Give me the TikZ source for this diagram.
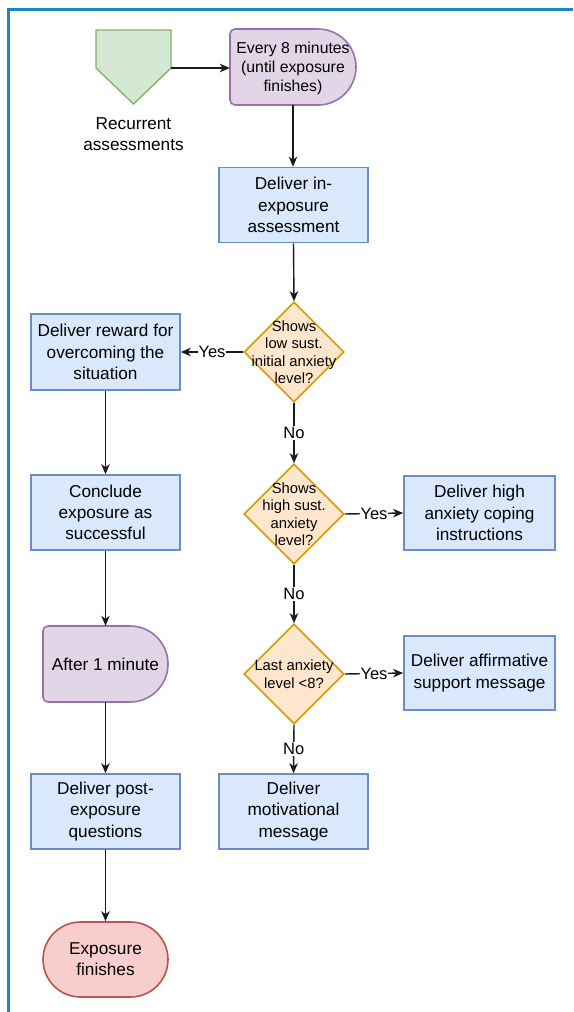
\documentclass[tikz,border=0pt]{standalone}
\usepackage{fontspec}
\setmainfont{Liberation Sans}
\usetikzlibrary{shapes.geometric,arrows.meta}

\definecolor{frameblue}{HTML}{1887C6}
\definecolor{procfill}{HTML}{DAE8FC}
\definecolor{procline}{HTML}{6C8EBF}
\definecolor{decfill}{HTML}{FFE6CC}
\definecolor{decline}{HTML}{D79B00}
\definecolor{delayfill}{HTML}{E1D5E7}
\definecolor{delayline}{HTML}{9673A6}
\definecolor{linkfill}{HTML}{D5E8D4}
\definecolor{linkline}{HTML}{82B366}
\definecolor{endfill}{HTML}{F8CECC}
\definecolor{endline}{HTML}{B85450}
\definecolor{wire}{HTML}{1A1A1A}

\newcommand\boxfont{\fontsize{17.2}{21.3}\selectfont}
\newcommand\delayfont{\fontsize{15.8}{19}\selectfont}
\newcommand\decfont{\fontsize{14.8}{17.5}\selectfont}
\newcommand\lblfont{\fontsize{16.5}{19}\selectfont}

\begin{document}
\begin{tikzpicture}[x=1pt,y=-1pt,
  procbox/.style={draw=procline, fill=procfill, line width=1.6pt, align=center,
    font=\boxfont, inner sep=0pt, minimum width=149pt, minimum height=75pt},
  decision/.style={diamond, aspect=1, draw=decline, fill=decfill, line width=1.6pt,
    inner sep=0pt, minimum width=100pt, minimum height=100pt},
  dectext/.style={align=center, font=\decfont, inner sep=0pt},
  delayshape/.style={draw=delayline, fill=delayfill, line width=1.6pt},
  ghost/.style={inner sep=0pt, draw=none},
  terminal/.style={draw=endline, fill=endfill, line width=1.6pt, align=center,
    font=\boxfont, inner sep=0pt, minimum width=125pt, minimum height=75pt,
    rounded corners=37.5pt},
  flow/.style={draw=wire, line width=1.4pt, -{Stealth[length=10pt,width=8.5pt,inset=3pt]}},
  lbl/.style={fill=white, font=\lblfont, inner sep=1pt, text=black}
]
\useasboundingbox (0,0) rectangle (573,1012);

% frame edges
\draw[frameblue, line width=2.5pt] (8.5,1012) -- (8.5,9.3) -- (573,9.3);

% off-page connector
\draw[draw=linkline, fill=linkfill, line width=1.4pt]
  (96,30) -- (171,30) -- (171,68) -- (133.5,104) -- (96,68) -- cycle;
\node[ghost, minimum width=75pt, minimum height=74pt] (pent) at (133.5,68) {};
\node[align=center, font=\boxfont] (reclabel) at (133.5,134) {Recurrent\\assessments};

% delay: every 8 minutes
\draw[delayshape] (318,29) [rounded corners=5pt] -- (230,29) -- (230,105)
  [sharp corners] -- (318,105) arc[start angle=-90, end angle=90, radius=38pt] -- cycle;
\node[ghost, minimum width=126pt, minimum height=76pt] (every) at (293,67) {};
\node[align=center, font=\delayfont, inner sep=0pt] (everytxt) at (293,68)
  {Every 8 minutes\\(until exposure\\finishes)};

% main column
\node[procbox] (assess) at (293.5,205) {Deliver in-\\exposure\\assessment};
\node[decision] (d1) at (294,352) {};
\node[dectext] (d1t) at (294,352) {Shows\\low sust.\\initial anxiety\\level?};
\node[decision] (d2) at (294,514) {};
\node[dectext] (d2t) at (294,514) {Shows\\high sust.\\anxiety\\level?};
\node[decision] (d3) at (294,674) {};
\node[dectext] (d3t) at (294,674) {Last anxiety\\level <8?};
\node[procbox] (motiv) at (293.5,811.5) {Deliver\\motivational\\message};

% right column
\node[procbox, minimum width=151pt, minimum height=74pt] (high) at (479.5,513)
  {Deliver high\\anxiety coping\\instructions};
\node[procbox, minimum width=151pt, minimum height=74pt] (affirm) at (479.5,673)
  {Deliver affirmative\\support message};

% left column
\node[procbox, minimum height=76pt] (reward) at (105.5,352)
  {Deliver reward for\\overcoming the\\situation};
\node[procbox] (conclude) at (105.5,512.5) {Conclude\\exposure as\\successful};
\draw[delayshape] (130,626) [rounded corners=5pt] -- (43,626) -- (43,702)
  [sharp corners] -- (130,702) arc[start angle=-90, end angle=90, radius=38pt] -- cycle;
\node[ghost, minimum width=125pt, minimum height=76pt] (after) at (105.5,664) {};
\node[font=\boxfont, inner sep=0pt] (aftertxt) at (105.5,664) {After 1 minute};
\node[procbox] (post) at (105.5,811.5) {Deliver post-\\exposure\\questions};
\node[terminal] (finish) at (105.5,959.5) {Exposure\\finishes};

% connectors
\draw[flow] (pent.east) -- (pent.east -| every.west);
\draw[flow] (every.south) -- (every.south |- assess.north);
\draw[flow] (assess.south) -- (d1.north);
\draw[flow] (d1.west) -- node[lbl] {Yes} (reward.east);
\draw[flow] (d1.south) -- node[lbl] {No} (d2.north);
\draw[flow] (d2.east) -- node[lbl] {Yes} (high.west);
\draw[flow] (d2.south) -- node[lbl] {No} (d3.north);
\draw[flow] (d3.east) -- node[lbl] {Yes} (affirm.west);
\draw[flow] (d3.south) -- node[lbl] {No} (motiv.north);
\draw[flow] (reward.south) -- (conclude.north);
\draw[flow] (conclude.south) -- (after.north);
\draw[flow] (after.south) -- (post.north);
\draw[flow] (post.south) -- (finish.north);
\end{tikzpicture}
\end{document}
